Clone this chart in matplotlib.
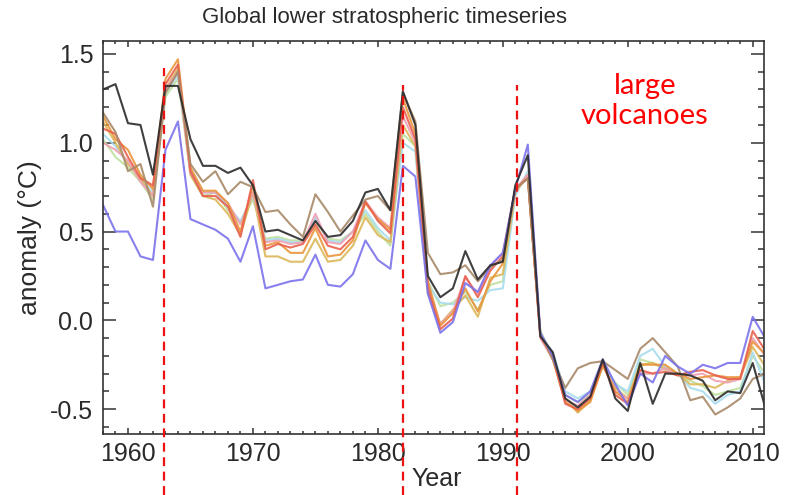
import numpy as np
import matplotlib
matplotlib.use('Agg')
import matplotlib.pyplot as plt
from matplotlib.ticker import MultipleLocator, FormatStrFormatter
from matplotlib.transforms import blended_transform_factory

plt.rcParams['font.family'] = ['Liberation Sans', 'DejaVu Sans']
plt.rcParams['axes.unicode_minus'] = False

years = np.arange(1958, 2012)

# annual anomalies (deg C), 1958-2011
green = [1.02, 0.92, 0.86, 0.78, 0.68, 1.26, 1.36, 0.82, 0.70, 0.72, 0.62, 0.55, 0.68, 0.46, 0.47, 0.45, 0.45, 0.56,
         0.46, 0.45, 0.50, 0.60, 0.50, 0.42, 1.05, 0.98, 0.22, 0.08, 0.10, 0.16, 0.06, 0.20, 0.22, 0.72, 0.82, -0.06,
         -0.20, -0.42, -0.46, -0.42, -0.25, -0.35, -0.42, -0.22, -0.24, -0.28, -0.31, -0.34, -0.37, -0.42, -0.40, -0.38,
         -0.20, -0.30]
cyan = [1.05, 0.98, 0.88, 0.80, 0.72, 1.28, 1.38, 0.84, 0.72, 0.72, 0.64, 0.56, 0.70, 0.45, 0.46, 0.44, 0.44, 0.58,
        0.45, 0.44, 0.50, 0.62, 0.52, 0.45, 1.00, 0.95, 0.20, 0.10, 0.09, 0.13, 0.11, 0.17, 0.18, 0.70, 0.84, -0.08,
        -0.18, -0.40, -0.44, -0.40, -0.24, -0.36, -0.40, -0.20, -0.16, -0.26, -0.30, -0.38, -0.40, -0.47, -0.42, -0.40,
        -0.18, -0.36]
yellow = [1.12, 1.00, 0.88, 0.80, 0.70, 1.30, 1.42, 0.82, 0.70, 0.68, 0.60, 0.48, 0.72, 0.36, 0.36, 0.33, 0.33, 0.46,
          0.33, 0.34, 0.42, 0.58, 0.48, 0.44, 1.10, 0.98, 0.15, -0.02, 0.06, 0.14, 0.02, 0.24, 0.26, 0.72, 0.82, -0.08,
          -0.20, -0.44, -0.52, -0.45, -0.26, -0.38, -0.44, -0.25, -0.24, -0.27, -0.30, -0.36, -0.36, -0.38, -0.34, -0.32,
          -0.15, -0.26]
pink = [1.00, 0.96, 0.90, 0.78, 0.70, 1.30, 1.40, 0.83, 0.72, 0.72, 0.66, 0.54, 0.72, 0.44, 0.45, 0.43, 0.44, 0.60,
        0.44, 0.43, 0.50, 0.67, 0.58, 0.52, 1.15, 1.00, 0.20, -0.02, 0.05, 0.24, 0.15, 0.30, 0.38, 0.74, 0.82, -0.10,
        -0.22, -0.45, -0.48, -0.42, -0.24, -0.40, -0.44, -0.30, -0.30, -0.27, -0.31, -0.31, -0.30, -0.34, -0.35, -0.33,
        -0.10, -0.20]
orange = [1.15, 1.02, 0.96, 0.82, 0.74, 1.36, 1.47, 0.86, 0.73, 0.73, 0.66, 0.50, 0.76, 0.42, 0.44, 0.38, 0.38, 0.52,
          0.36, 0.37, 0.45, 0.66, 0.57, 0.51, 1.25, 1.05, 0.22, -0.03, 0.04, 0.18, 0.05, 0.22, 0.32, 0.74, 0.80, -0.08,
          -0.22, -0.46, -0.51, -0.46, -0.25, -0.40, -0.46, -0.25, -0.25, -0.25, -0.30, -0.33, -0.32, -0.31, -0.32, -0.32,
          -0.12, -0.19]
red = [1.08, 1.05, 0.92, 0.80, 0.76, 1.33, 1.44, 0.84, 0.70, 0.70, 0.64, 0.47, 0.79, 0.40, 0.43, 0.41, 0.43, 0.54,
       0.42, 0.40, 0.47, 0.67, 0.56, 0.49, 1.20, 1.02, 0.18, -0.05, 0.01, 0.25, 0.13, 0.28, 0.36, 0.74, 0.80, -0.09,
       -0.20, -0.47, -0.50, -0.44, -0.24, -0.42, -0.47, -0.28, -0.30, -0.29, -0.31, -0.29, -0.28, -0.31, -0.33, -0.33,
       -0.06, -0.17]
tan = [1.17, 1.06, 0.84, 0.88, 0.64, 1.28, 1.40, 0.88, 0.78, 0.84, 0.71, 0.78, 0.75, 0.61, 0.62, 0.54, 0.47, 0.71,
       0.61, 0.50, 0.59, 0.68, 0.70, 0.62, 1.28, 1.12, 0.38, 0.26, 0.27, 0.31, 0.22, 0.30, 0.34, 0.74, 0.80, -0.07,
       -0.22, -0.38, -0.27, -0.24, -0.23, -0.28, -0.33, -0.16, -0.10, -0.18, -0.26, -0.45, -0.43, -0.53, -0.49, -0.44,
       -0.33, -0.30]
blue = [0.65, 0.50, 0.50, 0.36, 0.34, 0.96, 1.12, 0.57, 0.54, 0.51, 0.46, 0.33, 0.53, 0.18, 0.20, 0.22, 0.23, 0.37,
        0.20, 0.19, 0.26, 0.45, 0.34, 0.29, 0.87, 0.81, 0.15, -0.07, -0.01, 0.21, 0.16, 0.31, 0.38, 0.74, 0.99, -0.07,
        -0.20, -0.42, -0.46, -0.40, -0.22, -0.36, -0.48, -0.30, -0.35, -0.20, -0.26, -0.30, -0.25, -0.27, -0.24, -0.24,
        0.02, -0.10]
black = [1.30, 1.33, 1.11, 1.10, 0.82, 1.32, 1.32, 1.02, 0.87, 0.87, 0.83, 0.86, 0.76, 0.50, 0.51, 0.48, 0.45, 0.56,
         0.47, 0.48, 0.56, 0.72, 0.74, 0.62, 1.29, 1.10, 0.25, 0.13, 0.18, 0.39, 0.23, 0.31, 0.33, 0.76, 0.93, -0.09,
         -0.18, -0.44, -0.49, -0.43, -0.22, -0.44, -0.51, -0.24, -0.47, -0.30, -0.30, -0.31, -0.34, -0.45, -0.40, -0.41,
         -0.24, -0.49]

volcano_years = [1962.9, 1982.0, 1991.15]

series = [
    (green, '#bfe0a0'),
    (cyan, '#a8dcef'),
    (yellow, '#dcb75a'),
    (pink, '#eea0b4'),
    (orange, '#e9953c'),
    (red, '#e8604e'),
    (tan, '#a88968'),
    (blue, '#7b72ec'),
    (black, '#2b2b2b'),
]

fig = plt.figure(figsize=(7.88, 4.95), dpi=100)
ax = fig.add_axes([0.1307, 0.1232, 0.8388, 0.794])

for vals, col in series:
    ax.plot(years, vals, color=col, lw=1.5, alpha=0.9)

ax.set_xlim(1958, 2010.9)
ax.set_ylim(-0.64, 1.573)

ax.xaxis.set_major_locator(MultipleLocator(10))
ax.xaxis.set_minor_locator(MultipleLocator(1))
ax.yaxis.set_major_locator(MultipleLocator(0.5))
ax.yaxis.set_minor_locator(MultipleLocator(0.1))
ax.yaxis.set_major_formatter(FormatStrFormatter('%.1f'))

ax.tick_params(which='both', direction='in', top=True, right=True, colors='#333333', width=1.1,
               labelsize=18, labelcolor='#2a2a2a')
ax.tick_params(axis='y', which='major', length=9.5, pad=7)
ax.tick_params(axis='y', which='minor', length=4.5)
ax.tick_params(axis='x', which='major', length=4, pad=6)
ax.tick_params(axis='x', which='minor', length=2.3)
for sp in ax.spines.values():
    sp.set_color('#333333')
    sp.set_linewidth(1.2)

ax.set_xlabel('Year', fontsize=18, color='#2a2a2a')
ax.set_ylabel('anomaly (°C)', fontsize=19, color='#2a2a2a')
ax.xaxis.set_label_coords(0.505, -0.085)
ax.yaxis.set_label_coords(-0.092, 0.5)

fig.text(385 / 788, 1 - 17 / 495, 'Global lower stratospheric timeseries', fontsize=16,
         color='#2a2a2a', ha='center', va='center')

# dashed markers for the eruptions, running past the axes to the bottom edge
trans = blended_transform_factory(ax.transData, fig.transFigure)
tops = [1 - 68 / 495, 1 - 85 / 495, 1 - 85 / 495]
for yr, top in zip(volcano_years, tops):
    ax.plot([yr, yr], [0, top], transform=trans, color='#ee1111', lw=1.6,
            linestyle=(0, (4, 2.5)), clip_on=False, zorder=5)

fig.text(645 / 788, 1 - 101 / 495, 'large\nvolcanoes', fontsize=21, family=['Lato', 'DejaVu Sans'],
         color='#ff0000', ha='center', va='center', linespacing=1.15)

fig.savefig('out.png', dpi=100)
